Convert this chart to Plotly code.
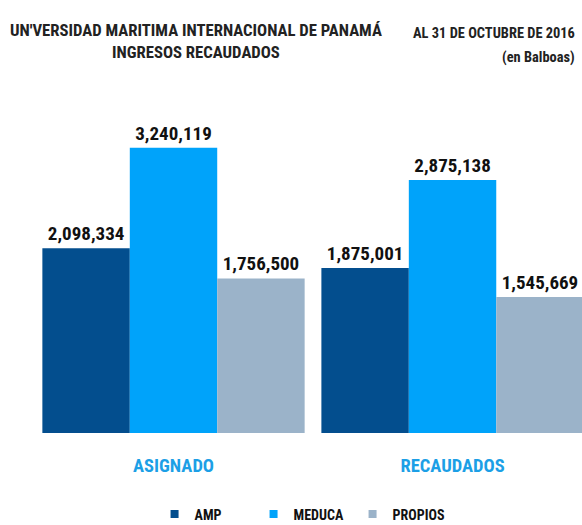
import plotly.graph_objects as go

categories = ["ASIGNADO", "RECAUDADOS"]
amp = [2098334, 1875001]
meduca = [3240119, 2875138]
propios = [1756500, 1545669]
series_names = ["AMP", "MEDUCA", "PROPIOS"]
colors = ["#034E8E", "#00A3FA", "#9BB3C9"]

FONT = "Roboto Condensed, Liberation Sans Narrow, Arial Narrow, sans-serif"

fig = go.Figure()
for name, vals, col in zip(series_names, [amp, meduca, propios], colors):
    fig.add_trace(go.Bar(
        x=categories, y=vals, name=name, marker_color=col, marker_line_width=0,
        text=[f"<b>{v:,}</b>" for v in vals], textposition="outside",
        textfont=dict(family=FONT, size=19, color="#111111"),
        cliponaxis=False, showlegend=False,
    ))
# legend entries with small square markers
for name, col in zip(series_names, colors):
    fig.add_trace(go.Scatter(
        x=[None], y=[None], mode="markers", name=f"<b>{name}</b>",
        marker=dict(symbol="square", size=8, color=col),
    ))

fig.update_layout(
    width=582, height=525,
    margin=dict(l=34, r=0, t=100, b=92),
    paper_bgcolor="white", plot_bgcolor="white",
    barmode="group", bargap=0.06, bargroupgap=0,
    showlegend=True,
    legend=dict(orientation="h", x=0.22, xanchor="left", xref="paper",
                yref="container", y=0.02, yanchor="middle",
                font=dict(family=FONT, size=14, color="#111111"),
                itemwidth=30, entrywidthmode="pixels", entrywidth=54),
    xaxis=dict(range=[-0.5, 1.464], showline=False, showgrid=False, ticks="",
               tickfont=dict(family=FONT, size=18.5, color="#1C9FE6"),
               tickvals=categories, ticktext=[f"<b>{c}</b>" for c in categories],
               ticklabelstandoff=19),
    yaxis=dict(range=[0, 3784000], visible=False, showgrid=False),
    font=dict(family=FONT),
)

title_lines = ["UN'VERSIDAD MARITIMA INTERNACIONAL DE PANAMÁ", "INGRESOS RECAUDADOS"]
for line, ys in zip(title_lines, [70, 48]):
    fig.add_annotation(text=f"<b>{line}</b>", xref="paper", yref="paper", x=0.296, y=1.0, yshift=ys,
                       xanchor="center", yanchor="middle", showarrow=False,
                       font=dict(family=FONT, size=16.7, color="#222222"))
right_lines = ["AL 31 DE OCTUBRE DE 2016", "(en Balboas)"]
for line, ys in zip(right_lines, [67, 43]):
    fig.add_annotation(text=f"<b>{line}</b>", xref="paper", yref="paper", x=1.0, xshift=-5, y=1.0, yshift=ys,
                       xanchor="right", yanchor="middle", showarrow=False,
                       font=dict(family=FONT, size=14.4, color="#222222"))

fig.write_html(
    "out.html",
    config={"displayModeBar": False},
    post_script="document.body.style.margin='0';document.documentElement.style.overflow='hidden';",
)
